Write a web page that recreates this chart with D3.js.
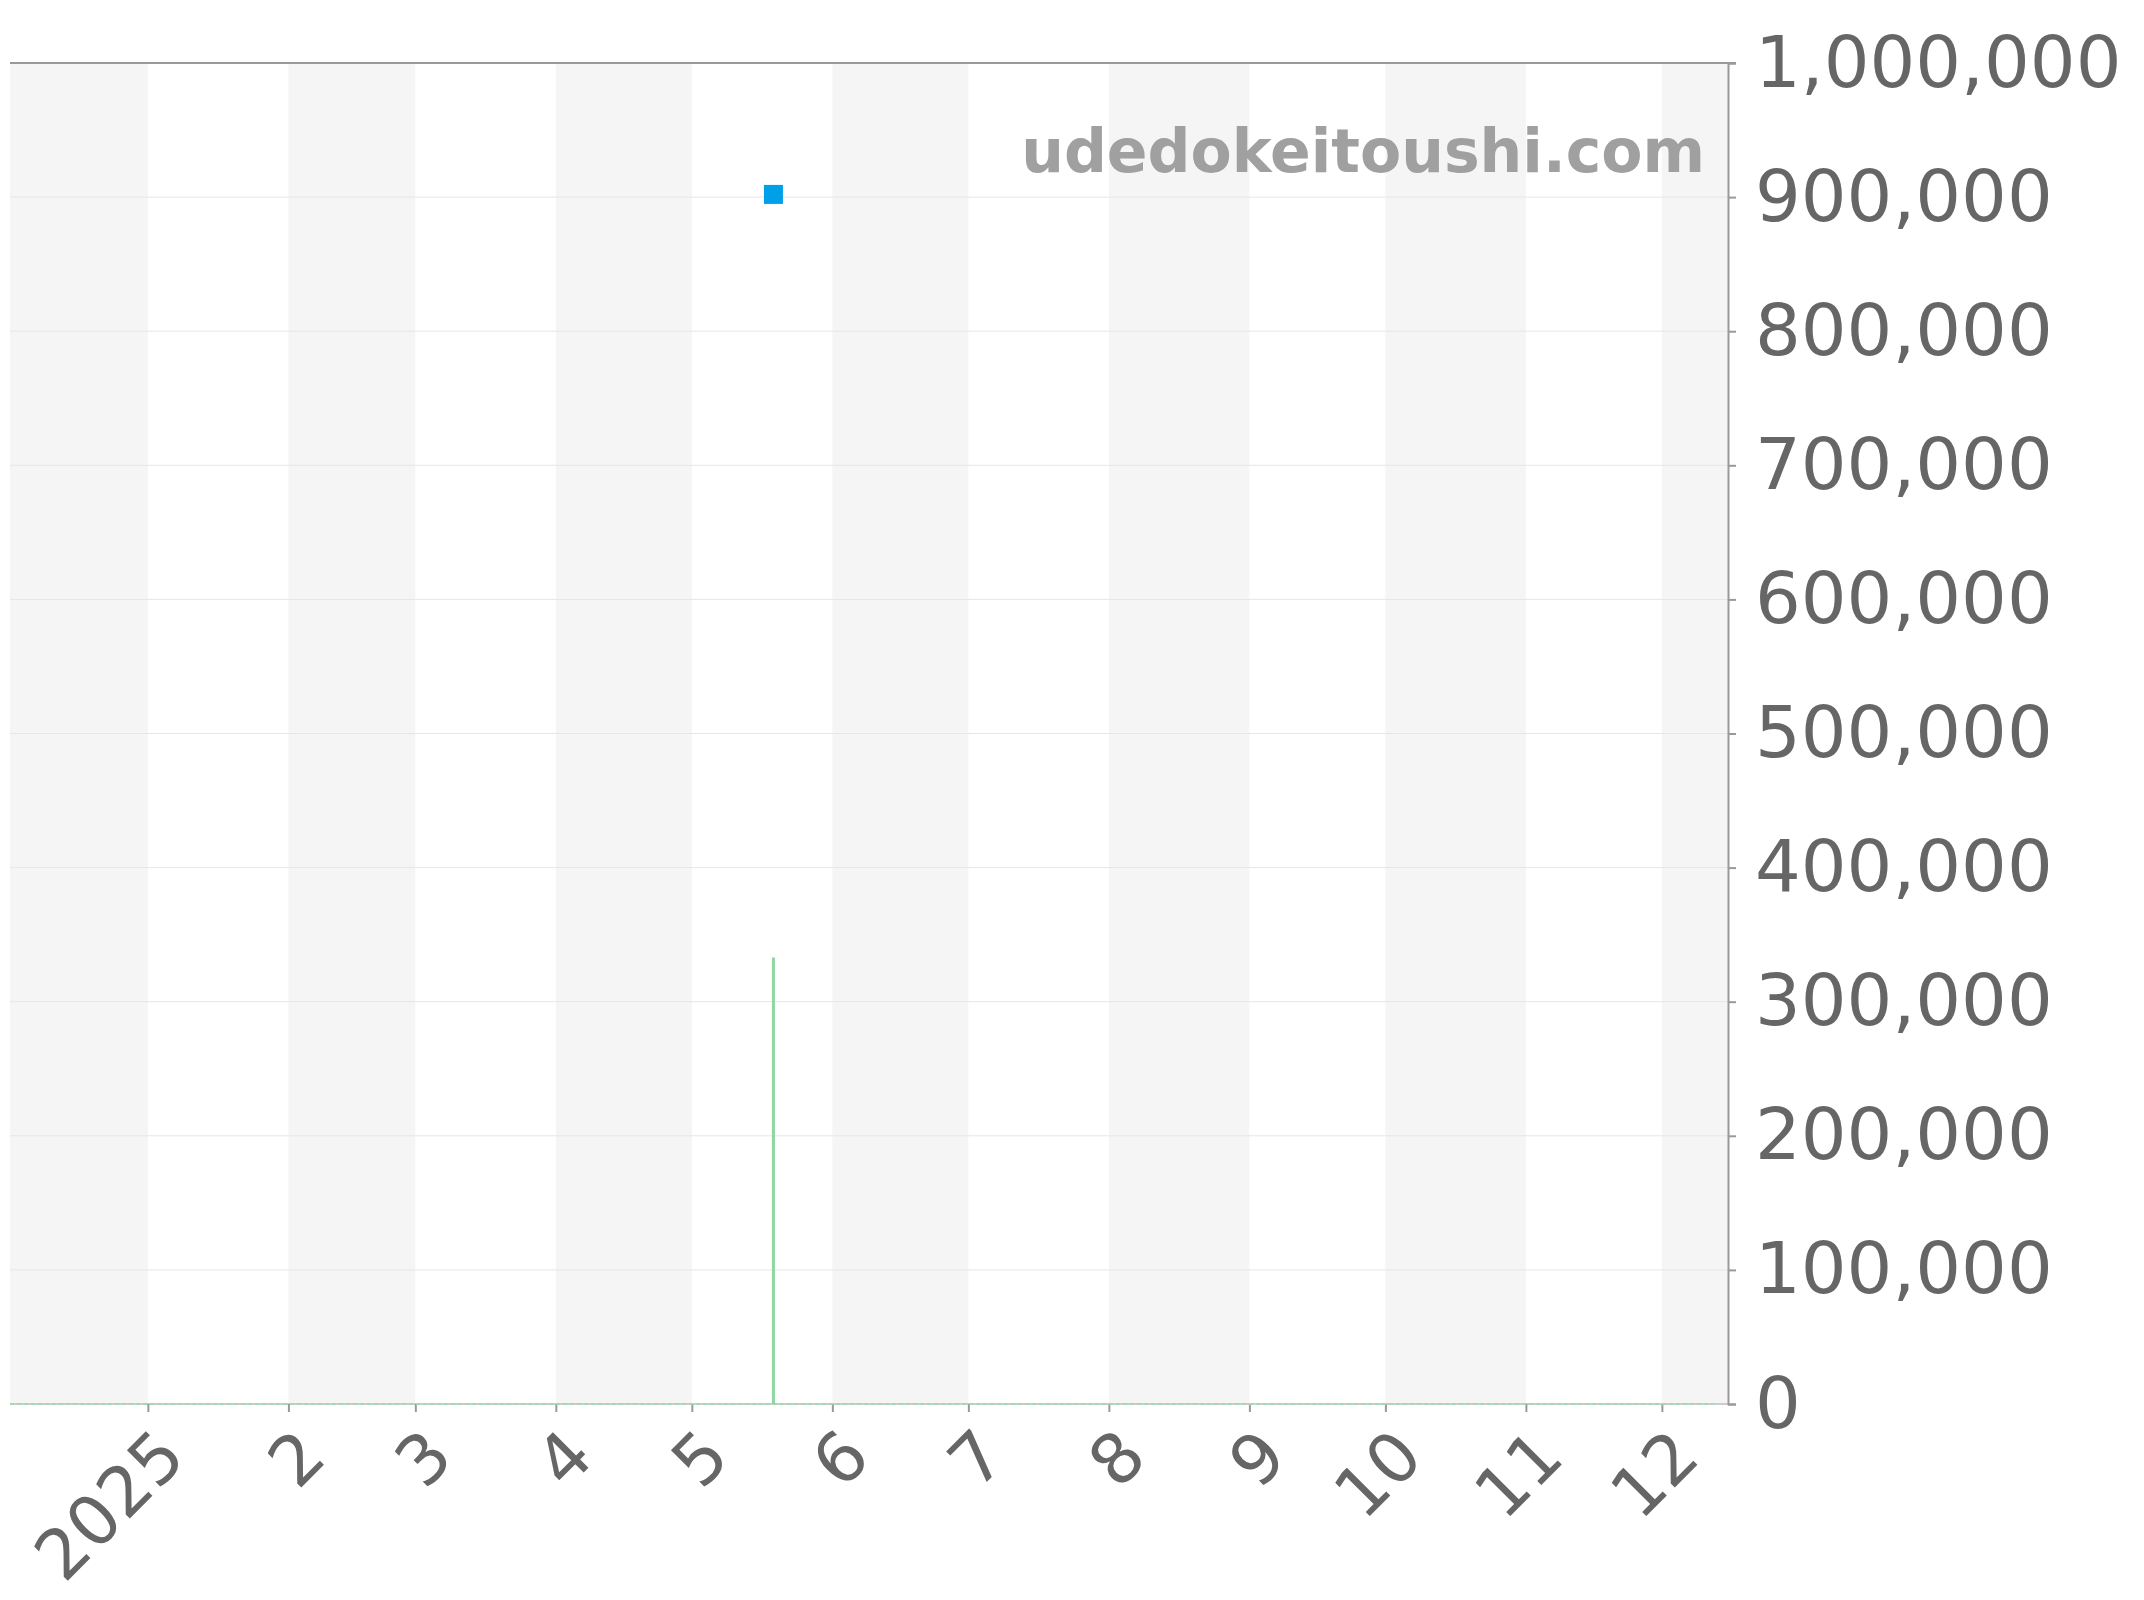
<!DOCTYPE html>
<html>
<head>
<meta charset="utf-8">
<script src="https://cdn.jsdelivr.net/npm/d3@7"></script>
<style>
  body { margin: 0; background: #fff; }
  text { font-family: "DejaVu Sans", sans-serif; }
</style>
</head>
<body>
<div id="chart"></div>
<script>
// data
var tradeDates = ["2025-05-19"];
var prices = [902000];
var volumes = [333000];
var monthTicks = ["2025-01-01","2025-02-01","2025-03-01","2025-04-01","2025-05-01","2025-06-01",
                  "2025-07-01","2025-08-01","2025-09-01","2025-10-01","2025-11-01","2025-12-01"];
var monthLabels = ["2025","2","3","4","5","6","7","8","9","10","11","12"];
var bandStarts = ["2024-12-01","2025-02-01","2025-04-01","2025-06-01","2025-08-01","2025-10-01","2025-12-01"];
var yTicks = [0,100000,200000,300000,400000,500000,600000,700000,800000,900000,1000000];

var width = 2144, height = 1600;
var plotLeft = 10, plotRight = 1728, plotTop = 63, plotBottom = 1404;

var parse = d3.timeParse("%Y-%m-%d");
var domainStart = new Date(2024, 11, 1, 14);
var domainEnd = new Date(2025, 11, 15, 14);

var x = d3.scaleTime().domain([domainStart, domainEnd]).range([plotLeft, plotRight]);
var y = d3.scaleLinear().domain([0, 1000000]).range([plotBottom, plotTop]);

var svg = d3.select("#chart")
    .append("svg")
    .attr("width", width)
    .attr("height", height);

// alternating month bands
svg.append("g").selectAll("rect")
    .data(bandStarts)
    .enter().append("rect")
    .attr("x", function(d) { return Math.max(plotLeft, x(parse(d))); })
    .attr("y", plotTop)
    .attr("width", function(d) {
        var s = parse(d);
        var e = d3.timeMonth.offset(s, 1);
        var x0 = Math.max(plotLeft, x(s)), x1 = Math.min(plotRight, x(e));
        return Math.max(0, x1 - x0);
    })
    .attr("height", plotBottom - plotTop)
    .attr("fill", "#f5f5f5");

// grid lines
svg.append("g").selectAll("line")
    .data(yTicks.slice(1, -1))
    .enter().append("line")
    .attr("x1", plotLeft).attr("x2", plotRight)
    .attr("y1", function(d) { return y(d); })
    .attr("y2", function(d) { return y(d); })
    .attr("stroke", "#e6e6e6")
    .attr("stroke-width", 1);

// top border
svg.append("line")
    .attr("x1", plotLeft).attr("x2", plotRight + 8)
    .attr("y1", plotTop).attr("y2", plotTop)
    .attr("stroke", "#999").attr("stroke-width", 2);

// bottom axis line
svg.append("line")
    .attr("x1", plotLeft).attr("x2", plotRight)
    .attr("y1", plotBottom).attr("y2", plotBottom)
    .attr("stroke", "#ccc").attr("stroke-width", 2);

// x axis
var xAxis = d3.axisBottom(x)
    .tickValues(monthTicks.map(parse))
    .tickSize(8)
    .tickFormat(function(d, i) { return monthLabels[i]; });

var gx = svg.append("g")
    .attr("transform", "translate(0," + plotBottom + ")")
    .call(xAxis);
gx.select(".domain").remove();
gx.selectAll(".tick line").attr("stroke", "#999").attr("stroke-width", 2);
gx.selectAll(".tick text")
    .attr("fill", "#666")
    .attr("font-size", 69)
    .attr("text-anchor", "end")
    .attr("dy", 0)
    .attr("y", 0)
    .attr("transform", "translate(40,56) rotate(-45)");

// y axis on the right
var yAxis = d3.axisRight(y)
    .tickValues(yTicks)
    .tickSize(8)
    .tickPadding(19)
    .tickFormat(d3.format(","));

var gy = svg.append("g")
    .attr("transform", "translate(" + plotRight + ",0)")
    .call(yAxis);
gy.select(".domain").attr("stroke", "#999").attr("stroke-width", 2);
gy.selectAll(".tick line").attr("stroke", "#999").attr("stroke-width", 2);
gy.selectAll(".tick text")
    .attr("fill", "#666")
    .attr("font-size", 72);

// zero volume line
svg.append("line")
    .attr("x1", plotLeft).attr("x2", 1713)
    .attr("y1", plotBottom).attr("y2", plotBottom)
    .attr("stroke", "#9edcaa")
    .attr("stroke-width", 2)
    .attr("stroke-dasharray", "4,3");

// volume bars
svg.append("g").selectAll("rect")
    .data(volumes)
    .enter().append("rect")
    .attr("x", function(d, i) { return x(parse(tradeDates[i])) - 1.5; })
    .attr("y", function(d) { return y(d); })
    .attr("width", 3)
    .attr("height", function(d) { return plotBottom - y(d); })
    .attr("fill", "#8fd6a0");

// price markers
svg.append("g").selectAll("rect")
    .data(prices)
    .enter().append("rect")
    .attr("x", function(d, i) { return x(parse(tradeDates[i])) - 9.5; })
    .attr("y", function(d) { return y(d) - 9.5; })
    .attr("width", 19)
    .attr("height", 19)
    .attr("fill", "#00a0e9");

// watermark
svg.append("text")
    .attr("x", 1705)
    .attr("y", 172)
    .attr("text-anchor", "end")
    .attr("font-size", 60)
    .attr("font-weight", "bold")
    .attr("fill", "#a0a0a0")
    .text("udedokeitoushi.com");
</script>
</body>
</html>
